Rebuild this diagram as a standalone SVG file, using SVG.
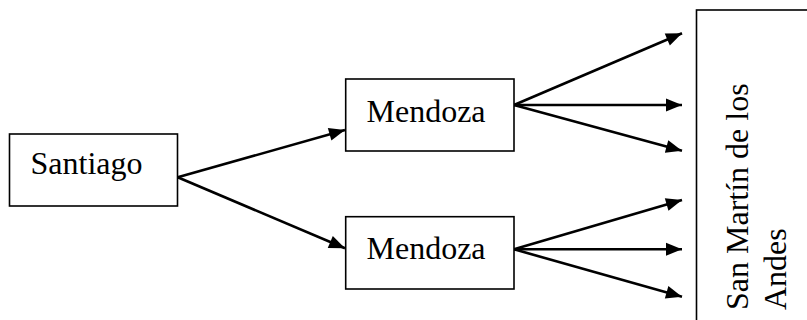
<svg xmlns="http://www.w3.org/2000/svg" width="807" height="320" viewBox="0 0 807 320">
<style>
.box{fill:#fff;stroke:#000;stroke-width:1.6}
.lbl{font-family:"Liberation Serif","Times New Roman",serif;font-size:32px;fill:#000}
.arr{stroke:#000;stroke-width:2.6;fill:none;marker-end:url(#ah)}
</style>
<defs>
<marker id="ah" markerUnits="userSpaceOnUse" markerWidth="17" markerHeight="14" refX="16" refY="6.5" orient="auto" overflow="visible">
<path d="M0,0 L16,6.5 L0,13 z" fill="#000"/>
</marker>
</defs>
<rect width="807" height="320" fill="#fff"/>
<g id="connectors">
<line class="arr" x1="177.7" y1="177.3" x2="345" y2="130"/>
<line class="arr" x1="177.7" y1="177.3" x2="345" y2="248.3"/>
<line class="arr" x1="514" y1="105" x2="682" y2="33.3"/>
<line class="arr" x1="514" y1="105" x2="682" y2="105"/>
<line class="arr" x1="514" y1="105" x2="682" y2="150.7"/>
<line class="arr" x1="514" y1="249.3" x2="682" y2="200"/>
<line class="arr" x1="514" y1="249.3" x2="682" y2="249.3"/>
<line class="arr" x1="514" y1="249.3" x2="682" y2="296.7"/>
</g>
<g id="santiago">
<rect class="box" x="9.5" y="134" width="168" height="72"/>
<text class="lbl" x="30.5" y="174">Santiago</text>
</g>
<g id="mendoza1">
<rect class="box" x="345.7" y="79" width="168.3" height="72"/>
<text class="lbl" x="366.5" y="121.7">Mendoza</text>
</g>
<g id="mendoza2">
<rect class="box" x="345.7" y="216.7" width="168.3" height="72.3"/>
<text class="lbl" x="366.5" y="259">Mendoza</text>
</g>
<g id="sanmartin">
<rect class="box" x="696.5" y="10" width="130" height="330"/>
<text class="lbl" transform="translate(747.5,310) rotate(-90)">San Martín de los</text>
<text class="lbl" transform="translate(786,310) rotate(-90)">Andes</text>
</g>
</svg>
